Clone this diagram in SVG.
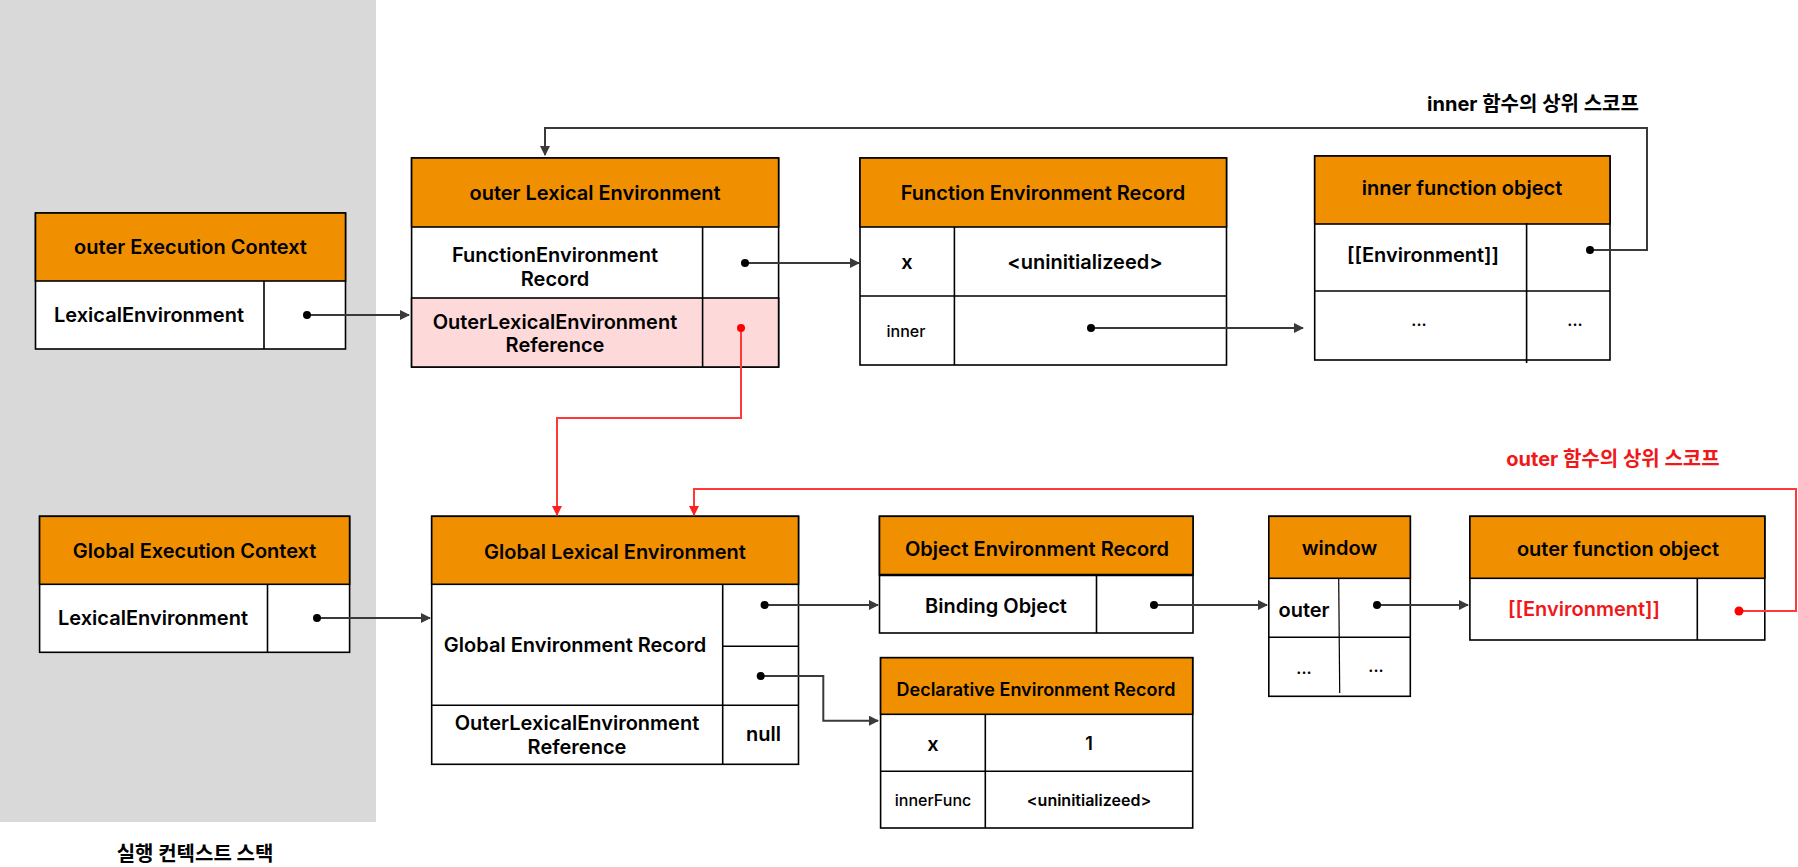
<svg xmlns="http://www.w3.org/2000/svg" width="1798" height="867" viewBox="0 0 1798 867">
<defs>
<style>
.box{fill:#fff;stroke:#000;stroke-width:1.6}
.hd{fill:#F09000;stroke:#000;stroke-width:1.6}
.pk{fill:#FDD9DA;stroke:#000;stroke-width:1.6}
.ln{stroke:#000;stroke-width:1.6;fill:none}
.t{font-family:Inter,"Noto Sans","Noto Sans CJK KR",sans-serif;font-size:20px;font-weight:500;fill:#000;text-anchor:middle;dominant-baseline:central}
.th{font-weight:600}
.sm{font-size:16px}
.md{font-size:18px}
.kr{font-family:Inter,"Noto Sans CJK KR",sans-serif;font-weight:700}
.red{fill:#F01818}
.c{stroke:#3a3a3a;stroke-width:2;fill:none}
.cr{stroke:#FF3838;stroke-width:2;fill:none}
.d{fill:#000}
.dr{fill:#FF0000}
</style>
<marker id="ah" viewBox="0 0 10 10" refX="9" refY="5" markerWidth="5" markerHeight="5" orient="auto" markerUnits="strokeWidth"><path d="M0,0 L10,5 L0,10 z" fill="#3a3a3a"/></marker>
<marker id="ahr" viewBox="0 0 10 10" refX="9" refY="5" markerWidth="5" markerHeight="5" orient="auto" markerUnits="strokeWidth"><path d="M0,0 L10,5 L0,10 z" fill="#FF2020"/></marker>
</defs>
<rect x="0" y="0" width="376" height="822" fill="#D9D9D9"/>
<text class="t kr" x="195" y="854">실행 컨텍스트 스택</text>

<g id="outer-ec">
<rect class="box" x="35.5" y="213" width="310" height="136"/>
<rect class="hd" x="35.5" y="213" width="310" height="68"/>
<line class="ln" x1="264" y1="281" x2="264" y2="349"/>
<text class="t th" x="190.5" y="247">outer Execution Context</text>
<text class="t th" x="149" y="315">LexicalEnvironment</text>
</g>

<g id="outer-le">
<rect class="box" x="411.6" y="158" width="367" height="209"/>
<rect class="pk" x="411.6" y="298" width="367" height="69"/>
<rect class="hd" x="411.6" y="158" width="367" height="69"/>
<line class="ln" x1="702.6" y1="227" x2="702.6" y2="367"/>
<text class="t th" x="595" y="193">outer Lexical Environment</text>
<text class="t th" x="555" y="255">FunctionEnvironment</text>
<text class="t th" x="555" y="279">Record</text>
<text class="t th" x="555" y="322">OuterLexicalEnvironment</text>
<text class="t th" x="555" y="345">Reference</text>
</g>

<g id="function-er">
<rect class="box" x="860" y="158" width="366.5" height="207"/>
<rect class="hd" x="860" y="158" width="366.5" height="69"/>
<line class="ln" x1="860" y1="296" x2="1226.5" y2="296"/>
<line class="ln" x1="954.4" y1="227" x2="954.4" y2="365"/>
<text class="t th" x="1043" y="193">Function Environment Record</text>
<text class="t th" x="907" y="262">x</text>
<text class="t th" x="1085" y="262">&lt;uninitializeed&gt;</text>
<text class="t sm" x="906" y="331">inner</text>
</g>

<g id="inner-fo">
<rect class="box" x="1314.7" y="156" width="295.3" height="204"/>
<rect class="hd" x="1314.7" y="156" width="295.3" height="68"/>
<line class="ln" x1="1314.7" y1="291" x2="1610" y2="291"/>
<line class="ln" x1="1526.6" y1="223" x2="1526.6" y2="363"/>
<text class="t th" x="1462" y="188">inner function object</text>
<text class="t th" x="1423" y="255">[[Environment]]</text>
<text class="t sm th" x="1419" y="320">...</text>
<text class="t sm th" x="1575" y="320">...</text>
</g>

<g id="global-ec">
<rect class="box" x="39.6" y="516.3" width="310" height="136"/>
<rect class="hd" x="39.6" y="516.3" width="310" height="68"/>
<line class="ln" x1="267.5" y1="584.3" x2="267.5" y2="652.3"/>
<text class="t th" x="194.6" y="551">Global Execution Context</text>
<text class="t th" x="153" y="618">LexicalEnvironment</text>
</g>

<g id="global-le">
<rect class="box" x="431.7" y="516.3" width="366.8" height="248"/>
<rect class="hd" x="431.7" y="516.3" width="366.8" height="68"/>
<line class="ln" x1="431.7" y1="705.3" x2="798.5" y2="705.3"/>
<line class="ln" x1="722.7" y1="584.3" x2="722.7" y2="764.3"/>
<line class="ln" x1="722.7" y1="646.3" x2="798.5" y2="646.3"/>
<text class="t th" x="615" y="552">Global Lexical Environment</text>
<text class="t th" x="575" y="645">Global Environment Record</text>
<text class="t th" x="577" y="723">OuterLexicalEnvironment</text>
<text class="t th" x="577" y="746.5">Reference</text>
<text class="t th" x="763.5" y="734">null</text>
</g>

<g id="object-er">
<rect class="box" x="879.5" y="516.3" width="313.5" height="116.7"/>
<rect class="hd" x="879.5" y="516.3" width="313.5" height="58.7"/>
<line x1="879.5" y1="575" x2="1193" y2="575" stroke="#000" stroke-width="2.6"/>
<line class="ln" x1="1096.5" y1="575" x2="1096.5" y2="633"/>
<text class="t th" x="1037" y="549">Object Environment Record</text>
<text class="t th" x="996" y="606">Binding Object</text>
</g>

<g id="declarative-er">
<rect class="box" x="880.6" y="657.7" width="312.1" height="170.3"/>
<rect class="hd" x="880.6" y="657.7" width="312.1" height="56.6"/>
<line class="ln" x1="880.6" y1="771.3" x2="1192.7" y2="771.3"/>
<line class="ln" x1="985.3" y1="714.3" x2="985.3" y2="828"/>
<text class="t th md" x="1036" y="689">Declarative Environment Record</text>
<text class="t th" x="933" y="744">x</text>
<text class="t th md" x="1089" y="743">1</text>
<text class="t sm" x="933" y="800">innerFunc</text>
<text class="t sm th" x="1089" y="800">&lt;uninitializeed&gt;</text>
</g>

<g id="window">
<rect class="box" x="1268.8" y="516.3" width="141.5" height="180"/>
<rect class="hd" x="1268.8" y="516.3" width="141.5" height="62"/>
<line class="ln" x1="1268.8" y1="637.3" x2="1410.3" y2="637.3"/>
<line x1="1338.7" y1="578.3" x2="1339.7" y2="693" stroke="#000" stroke-width="1.2"/>
<text class="t th" x="1339.5" y="548">window</text>
<text class="t th" x="1304" y="610">outer</text>
<text class="t sm th" x="1304" y="668">...</text>
<text class="t sm th" x="1376" y="666">...</text>
</g>

<g id="outer-fo">
<rect class="box" x="1469.9" y="516.3" width="294.9" height="123.7"/>
<rect class="hd" x="1469.9" y="516.3" width="294.9" height="62"/>
<line class="ln" x1="1697.3" y1="578.3" x2="1697.3" y2="640"/>
<text class="t th" x="1618" y="549">outer function object</text>
<text class="t th red" x="1584" y="609">[[Environment]]</text>
</g>

<g id="labels">
<text class="t kr" x="1533" y="104">inner 함수의 상위 스코프</text>
<text class="t kr red" x="1613" y="459">outer 함수의 상위 스코프</text>
</g>

<g id="connectors">
<path class="c" d="M307,315 H409" marker-end="url(#ah)"/>
<circle class="d" cx="307" cy="315" r="4"/>
<path class="c" d="M745,263 H859" marker-end="url(#ah)"/>
<circle class="d" cx="745" cy="263" r="4"/>
<path class="c" d="M1091,328 H1303" marker-end="url(#ah)"/>
<circle class="d" cx="1091" cy="328" r="4"/>
<path class="c" d="M1590,250 H1647 V128 H545 V155" marker-end="url(#ah)"/>
<circle class="d" cx="1590" cy="250" r="4"/>
<path class="cr" d="M741,328 V418 H557 V515" marker-end="url(#ahr)"/>
<circle class="dr" cx="741" cy="328" r="4"/>
<path class="c" d="M317,618 H430" marker-end="url(#ah)"/>
<circle class="d" cx="317" cy="618" r="4"/>
<path class="c" d="M764.6,605 H878" marker-end="url(#ah)"/>
<circle class="d" cx="764.6" cy="605" r="4"/>
<path class="c" d="M760.7,676 H823.3 V720.7 H878" marker-end="url(#ah)"/>
<circle class="d" cx="760.7" cy="676" r="4"/>
<path class="c" d="M1154,605 H1267" marker-end="url(#ah)"/>
<circle class="d" cx="1154" cy="605" r="4"/>
<path class="c" d="M1377,605 H1468" marker-end="url(#ah)"/>
<circle class="d" cx="1377" cy="605" r="4"/>
<path class="cr" d="M1739,611 H1796 V489 H694 V515" marker-end="url(#ahr)"/>
<circle class="dr" cx="1739" cy="611" r="4.5"/>
</g>
</svg>
